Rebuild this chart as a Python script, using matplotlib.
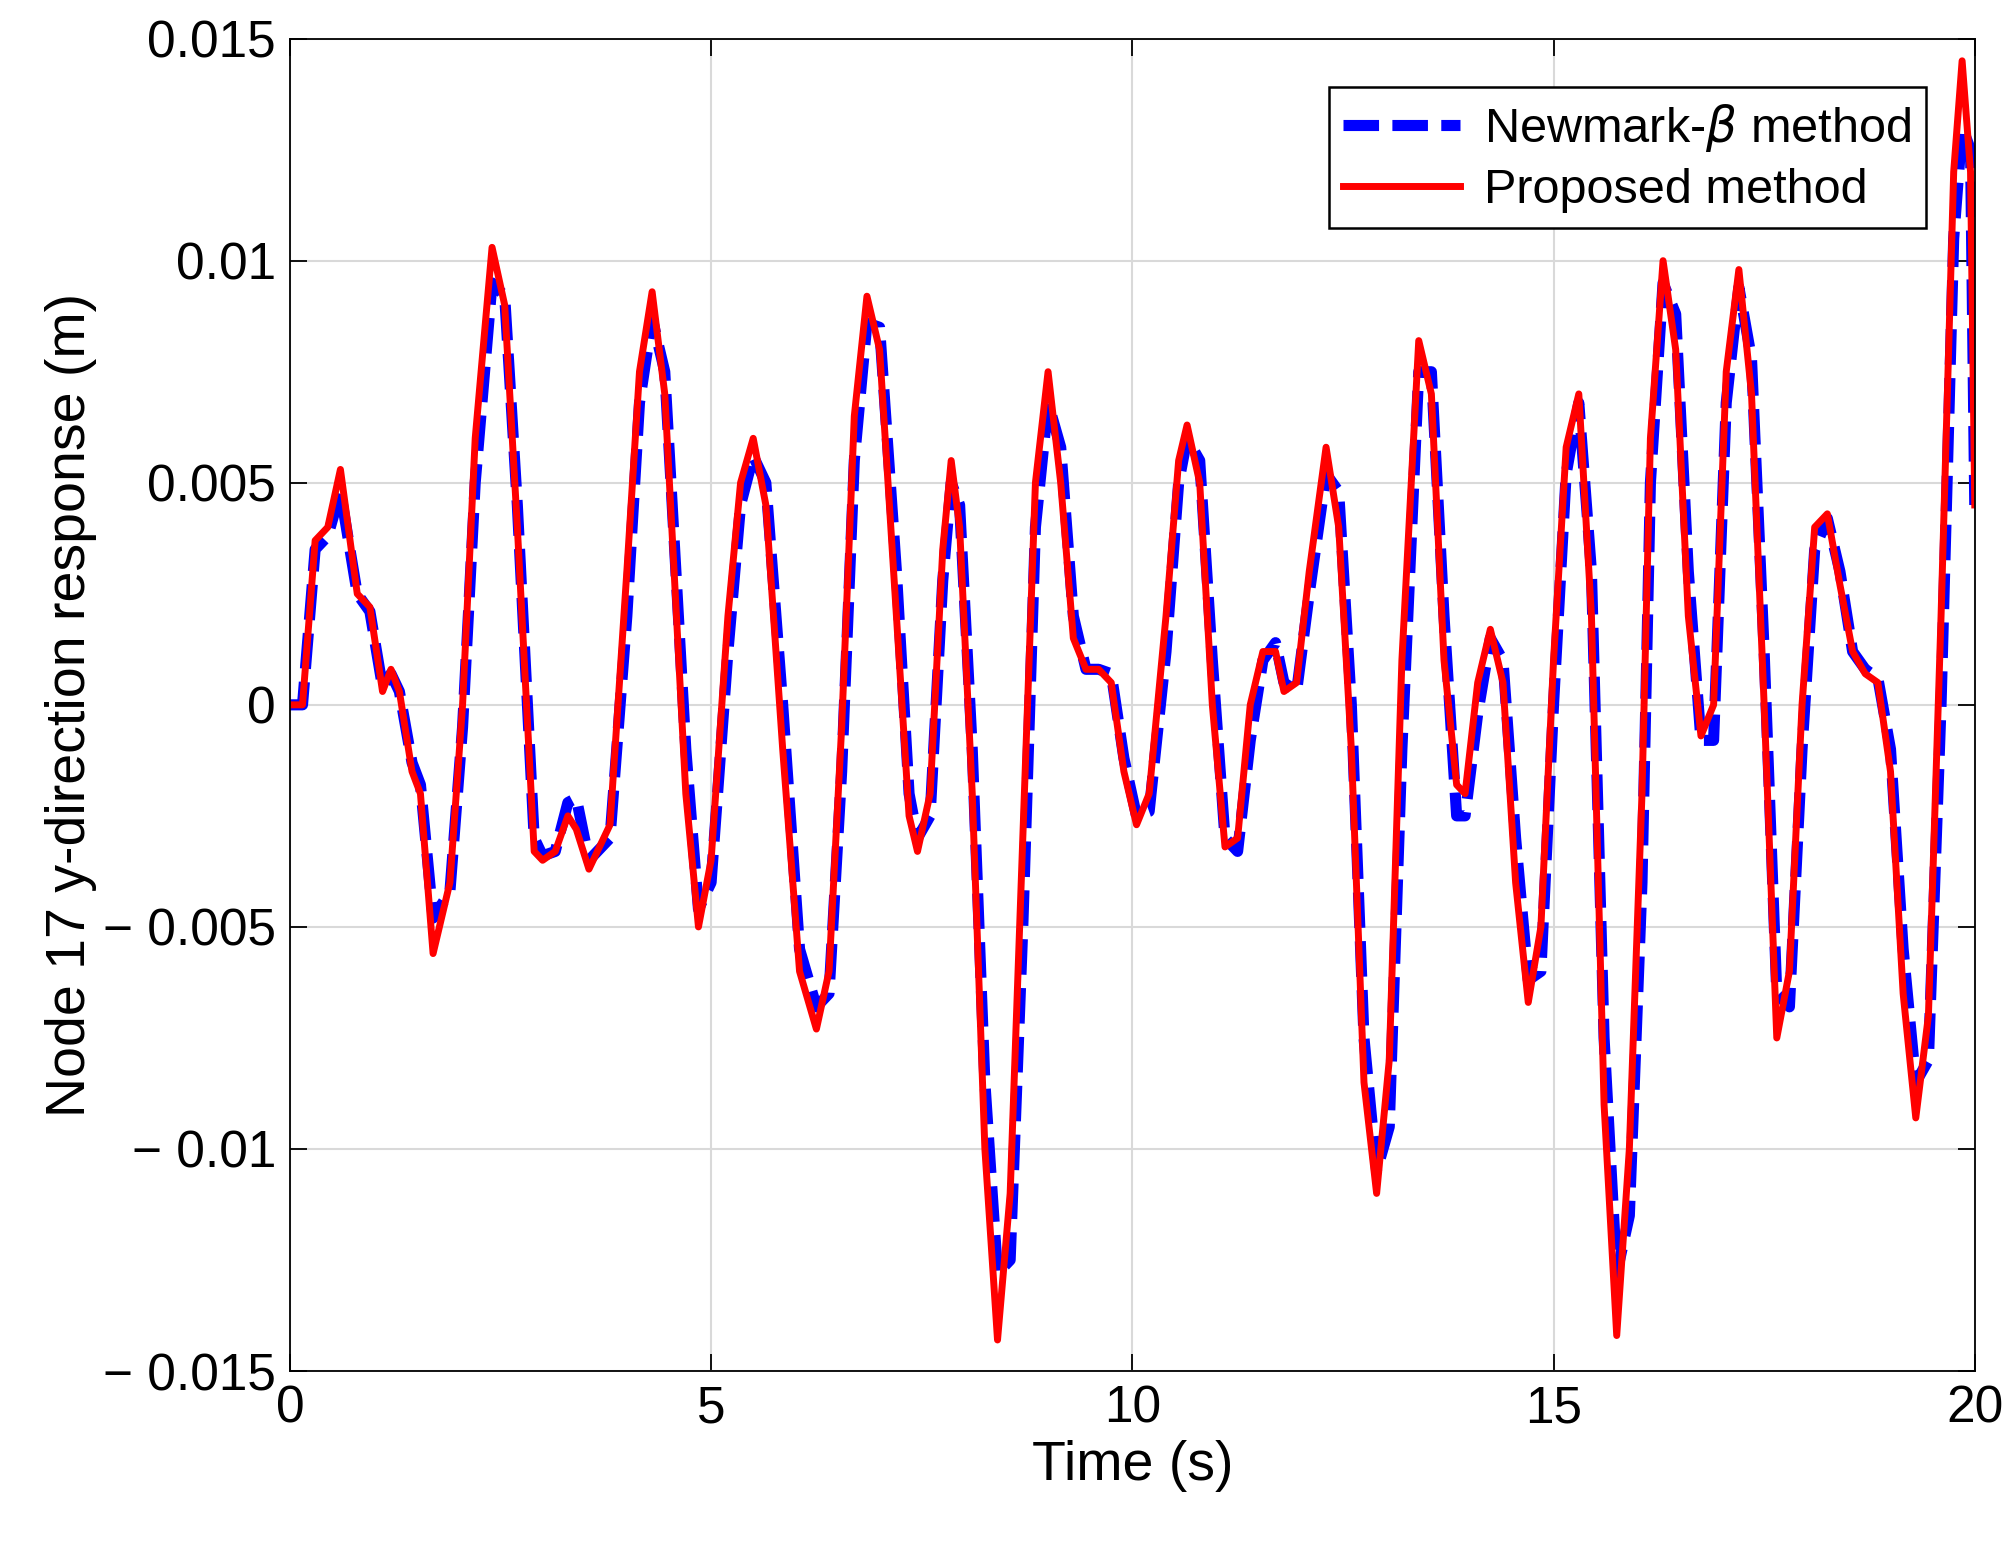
import matplotlib
matplotlib.use("Agg")
import matplotlib.pyplot as plt
from matplotlib.ticker import FuncFormatter

plt.rcParams["font.family"] = "Liberation Sans"

# time points (s)
time = [0, 0.15, 0.3, 0.45, 0.6, 0.8, 0.95, 1.1, 1.2, 1.3, 1.45, 1.55, 1.7, 1.9, 2.05,
        2.2, 2.4, 2.55, 2.7, 2.9, 3.0, 3.15, 3.3, 3.4, 3.55, 3.8, 4.0, 4.15, 4.3, 4.45,
        4.7, 4.85, 5.0, 5.2, 5.35, 5.5, 5.65, 5.85, 6.05, 6.25, 6.4, 6.55, 6.7, 6.85,
        7.0, 7.2, 7.35, 7.45, 7.6, 7.75, 7.85, 7.95, 8.1, 8.25, 8.4, 8.55, 8.7, 8.85,
        9.0, 9.15, 9.3, 9.45, 9.6, 9.75, 9.9, 10.05, 10.2, 10.4, 10.55, 10.65, 10.8,
        10.95, 11.1, 11.25, 11.4, 11.55, 11.7, 11.8, 11.95, 12.1, 12.3, 12.45, 12.6,
        12.75, 12.9, 13.05, 13.2, 13.4, 13.55, 13.7, 13.85, 13.95, 14.1, 14.25, 14.4,
        14.55, 14.7, 14.85, 15.0, 15.15, 15.3, 15.45, 15.6, 15.75, 15.9, 16.05, 16.15,
        16.3, 16.45, 16.6, 16.75, 16.9, 17.05, 17.2, 17.35, 17.5, 17.65, 17.8, 17.95,
        18.1, 18.25, 18.4, 18.55, 18.7, 18.85, 19.0, 19.15, 19.3, 19.45, 19.6, 19.75,
        19.85, 19.95, 20.0]

# Proposed method response (m)
proposed = [0, 0, 0.0037, 0.004, 0.0053, 0.0025, 0.0022, 0.0003, 0.0008, 0.0003,
            -0.0015, -0.002, -0.0056, -0.004, 0, 0.006, 0.0103, 0.009, 0.004, -0.0033,
            -0.0035, -0.0033, -0.0025, -0.0028, -0.0037, -0.0027, 0.003, 0.0075, 0.0093,
            0.007, -0.002, -0.005, -0.0035, 0.002, 0.005, 0.006, 0.0045, -0.001, -0.006,
            -0.0073, -0.006, -0.0005, 0.0065, 0.0092, 0.008, 0.002, -0.0025, -0.0033,
            -0.002, 0.0035, 0.0055, 0.004, -0.002, -0.01, -0.0143, -0.011, -0.003, 0.005,
            0.0075, 0.005, 0.0015, 0.0008, 0.0008, 0.0005, -0.0015, -0.0027, -0.002,
            0.002, 0.0055, 0.0063, 0.005, 0.0, -0.0032, -0.003, 0.0, 0.0012, 0.0012,
            0.0003, 0.0005, 0.003, 0.0058, 0.004, -0.001, -0.0085, -0.011, -0.008, 0.001,
            0.0082, 0.007, 0.001, -0.0018, -0.002, 0.0005, 0.0017, 0.0005, -0.004,
            -0.0067, -0.005, 0.001, 0.0058, 0.007, 0.002, -0.009, -0.0142, -0.01, -0.002,
            0.006, 0.01, 0.008, 0.002, -0.0007, 0.0, 0.0075, 0.0098, 0.007, 0.0, -0.0075,
            -0.006, 0.0, 0.004, 0.0043, 0.0027, 0.0012, 0.0007, 0.0005, -0.0015, -0.0065,
            -0.0093, -0.007, 0.002, 0.012, 0.0145, 0.012, 0.0045]

# Newmark-beta response (m)
newmark = [0, 0, 0.0035, 0.0038, 0.0048, 0.0025, 0.0021, 0.0004, 0.0007, 0.0003,
           -0.0013, -0.0018, -0.0048, -0.0042, -0.0005, 0.005, 0.0095, 0.0092, 0.0045,
           -0.003, -0.0034, -0.0033, -0.0022, -0.0021, -0.0035, -0.003, 0.002, 0.0068,
           0.0087, 0.0075, -0.001, -0.0046, -0.004, 0.0012, 0.0045, 0.0056, 0.005,
           0.0, -0.0055, -0.0068, -0.0065, -0.0015, 0.0055, 0.0086, 0.0085, 0.003,
           -0.002, -0.003, -0.0025, 0.0028, 0.005, 0.0045, -0.001, -0.0085, -0.0128,
           -0.0125, -0.005, 0.004, 0.0068, 0.0058, 0.002, 0.0008, 0.0008, 0.0007,
           -0.0012, -0.0025, -0.0024, 0.0012, 0.005, 0.006, 0.0055, 0.001, -0.003,
           -0.0033, -0.0008, 0.001, 0.0014, 0.0005, 0.0003, 0.0025, 0.0052, 0.0048,
           0.0, -0.0075, -0.0105, -0.0095, -0.001, 0.0075, 0.0075, 0.002, -0.0025,
           -0.0025, -0.0002, 0.0015, 0.001, -0.003, -0.0062, -0.006, 0.0, 0.0052,
           0.0068, 0.003, -0.0075, -0.0128, -0.0115, -0.004, 0.005, 0.0095, 0.0088,
           0.003, -0.0008, -0.0008, 0.0068, 0.0094, 0.0078, 0.0012, -0.0065, -0.0068,
           -0.001, 0.0035, 0.0042, 0.003, 0.0012, 0.0008, 0.0006, -0.001, -0.0055,
           -0.0085, -0.008, 0.0, 0.0105, 0.013, 0.0125, 0.0045]

xticks = [0, 5, 10, 15, 20]
yticks = [-0.015, -0.01, -0.005, 0, 0.005, 0.01, 0.015]


def fmt_y(v, pos):
    if abs(v) < 1e-12:
        return "0"
    s = ("%.3f" % abs(v)).rstrip("0")
    return ("\u2212 " + s) if v < 0 else s


fig = plt.figure(figsize=(20.13, 15.44), dpi=100)
ax = fig.add_axes([0.144, 0.112, 0.837, 0.863])

ax.plot(time, newmark, linestyle=(0, (3.2, 1.2)), color="#0000ff", linewidth=8,
        label=r"Newmark-$\beta$ method")
ax.plot(time, proposed, "-", color="#ff0000", linewidth=5, label="Proposed method")

ax.set_xlim(0, 20)
ax.set_ylim(-0.015, 0.015)
ax.set_xticks(xticks)
ax.set_yticks(yticks)
ax.yaxis.set_major_formatter(FuncFormatter(fmt_y))
ax.grid(True, color="#d9d9d9", linewidth=1.5)
ax.tick_params(direction="in", length=12, width=1.3, labelsize=37,
               top=True, right=True, pad=10)
for sp in ax.spines.values():
    sp.set_linewidth(1.3)
ax.set_xlabel("Time (s)", fontsize=40)
ax.set_ylabel("Node 17 y-direction response (m)", fontsize=40)

leg = ax.legend(loc="upper right", fontsize=35, fancybox=False, framealpha=1,
                edgecolor="black", handlelength=2.4, handletextpad=0.5,
                borderpad=0.3, labelspacing=0.3, borderaxespad=1.0)
leg.get_frame().set_linewidth(1.8)

fig.savefig("out.png", dpi=100)
